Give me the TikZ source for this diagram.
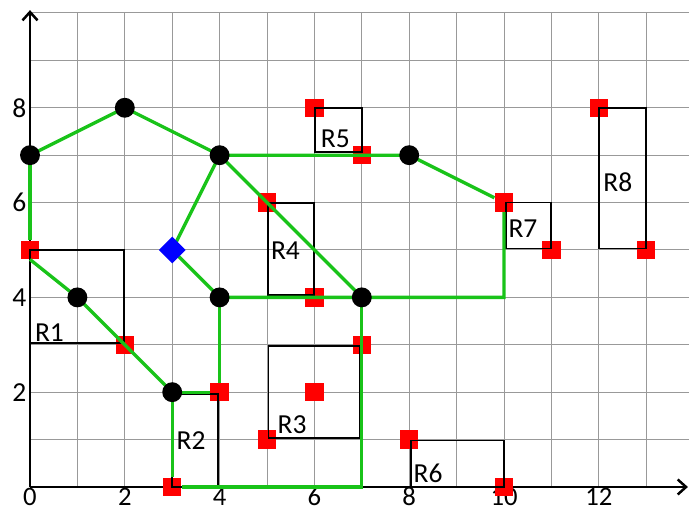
\documentclass[tikz,border=0pt]{standalone}
\usepackage{fontspec}
\setmainfont{Carlito}
\usetikzlibrary{arrows.meta,shapes.geometric}
\definecolor{grn}{RGB}{25,195,25}
\begin{document}
\begin{tikzpicture}[
  gridline/.style={black!40, line width=0.6pt},
  axis/.style={black, line width=1.5pt, -{Straight Barb[length=5pt,width=9pt,line width=1.5pt]}},
  edge/.style={grn, line width=2pt},
  region/.style={black, line width=1.1pt},
  pt/.style={circle, fill=black, minimum size=0.42cm, inner sep=0pt},
  sq/.style={rectangle, fill=red, minimum size=0.39cm, inner sep=0pt},
  dia/.style={diamond, fill=blue, minimum size=0.57cm, inner sep=0pt},
  lbl/.style={font=\fontsize{16.5}{20}\selectfont, inner sep=0pt},
  xlbl/.style={font=\fontsize{16}{19}\selectfont, inner sep=0pt, anchor=base},
]
\useasboundingbox (-0.633,-0.527) rectangle (13.903,10.274);

% grid
\foreach \x in {1,...,13} \draw[gridline] (\x,0) -- (\x,10);
\foreach \y in {1,...,10} \draw[gridline] (0,\y) -- (13.903,\y);

% axes
\coordinate (O) at (0,0);
\coordinate (XE) at (13.88,0);
\coordinate (YE) at (0,10.06);
\draw[axis] (O) -- (XE);
\draw[axis] (O) -- (YE);

% tick labels
\foreach \x in {0,2,...,12} \node[xlbl] (tx\x) at (\x,-0.40) {\x};
\foreach \y in {2,4,6,8} \node[lbl, anchor=east] (ty\y) at (-0.07,\y) {\y};

% red squares
\node[sq] (S68) at (6,8) {};
\node[sq] (S77) at (7,7) {};
\node[sq] (S56) at (5,6) {};
\node[sq] (S106) at (10,6) {};
\node[sq] (S115) at (11,5) {};
\node[sq] (S128) at (12,8) {};
\node[sq] (S135) at (13,5) {};
\node[sq] (S05) at (0,5) {};
\node[sq] (S23) at (2,3) {};
\node[sq] (S42) at (4,2) {};
\node[sq] (S64) at (6,4) {};
\node[sq] (S73) at (7,3) {};
\node[sq] (S62) at (6,2) {};
\node[sq] (S51) at (5,1) {};
\node[sq] (S81) at (8,1) {};
\node[sq] (S100) at (10,0) {};
\node[sq] (S30) at (3,0) {};

% regions
\draw[region] (0,3.03) rectangle (1.98,5);
\draw[region] (3,0) rectangle (3.97,1.96);
\draw[region] (5.03,1.04) rectangle (6.96,2.98);
\draw[region] (5.02,4.05) rectangle (5.99,5.99);
\draw[region] (6.02,7.07) rectangle (7,8);
\draw[region] (8.04,0) rectangle (10,0.98);
\draw[region] (10.04,5.03) rectangle (11,6);
\draw[region] (12,5.03) rectangle (13,8);

% point positions
\coordinate (P07) at (0,7);
\coordinate (P28) at (2,8);
\coordinate (P47) at (4,7);
\coordinate (P14) at (1,4);
\coordinate (P32) at (3,2);
\coordinate (P44) at (4,4);
\coordinate (P74) at (7,4);
\coordinate (P87) at (8,7);
\coordinate (PD) at (3,5);
\coordinate (C048) at (0,4.8);
\coordinate (C70) at (7,0);
\coordinate (C104) at (10,4);

% green connectors
\draw[edge] (P07) -- (P28) -- (P47);
\draw[edge] (P07) -- (S05);
\draw[edge] (C048) -- (P14) -- (P32);
\draw[edge] (P32) -- (S42) -- (P44);
\draw[edge] (P32) -- (S30) -- (C70) -- (P74);
\draw[edge] (P44) -- (P74) -- (C104) -- (S106) -- (P87) -- (P47);
\draw[edge] (P47) -- (P74);
\draw[edge] (P47) -- (PD) -- (P44);

% black points
\node[pt] (D07) at (P07) {};
\node[pt] (D28) at (P28) {};
\node[pt] (D47) at (P47) {};
\node[pt] (D14) at (P14) {};
\node[pt] (D32) at (P32) {};
\node[pt] (D44) at (P44) {};
\node[pt] (D74) at (P74) {};
\node[pt] (D87) at (P87) {};
\node[dia] (DM) at (PD) {};

% region labels
\node[lbl] (L1) at (0.41,3.26) {R1};
\node[lbl] (L2) at (3.40,0.97) {R2};
\node[lbl] (L3) at (5.53,1.31) {R3};
\node[lbl] (L4) at (5.39,4.98) {R4};
\node[lbl] (L5) at (6.44,7.34) {R5};
\node[lbl] (L6) at (8.40,0.28) {R6};
\node[lbl] (L7) at (10.40,5.44) {R7};
\node[lbl] (L8) at (12.40,6.42) {R8};
\end{tikzpicture}
\end{document}
